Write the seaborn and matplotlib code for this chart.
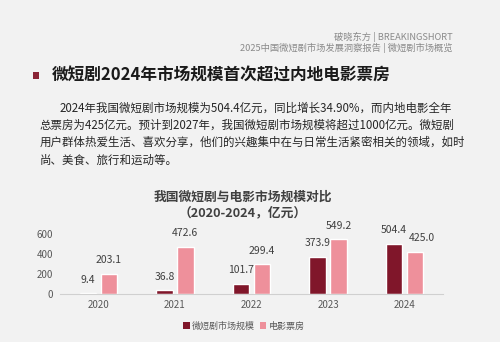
import matplotlib
matplotlib.use("Agg")
import matplotlib.pyplot as plt
import seaborn as sns
import pandas as pd
from matplotlib.patches import Rectangle, Patch

years = ["2020", "2021", "2022", "2023", "2024"]
micro_drama = [9.4, 36.8, 101.7, 373.9, 504.4]
box_office = [203.1, 472.6, 299.4, 549.2, 425.0]
series_names = ["微短剧市场规模", "电影票房"]
yticks = [0, 200, 400, 600]

header1 = "破晓东方 | BREAKINGSHORT"
header2 = "2025中国微短剧市场发展洞察报告 | 微短剧市场概览"
title = "微短剧2024年市场规模首次超过内地电影票房"
para_lines = [
    "2024年我国微短剧市场规模为504.4亿元，同比增长34.90%，而内地电影全年",
    "总票房为425亿元。预计到2027年，我国微短剧市场规模将超过1000亿元。微短剧",
    "用户群体热爱生活、喜欢分享，他们的兴趣集中在与日常生活紧密相关的领域，如时",
    "尚、美食、旅行和运动等。",
]
chart_title = "我国微短剧与电影市场规模对比\n（2020-2024，亿元）"

sns.set_theme(style="white")
plt.rcParams["font.family"] = ["Noto Sans CJK SC", "DejaVu Sans"]

DARK = "#80162a"
PINK = "#ee909b"
BG = "#f2f2f2"

df = pd.DataFrame({
    "year": years * 2,
    "value": micro_drama + box_office,
    "series": [series_names[0]] * len(years) + [series_names[1]] * len(years),
})

W, H = 500, 342
fig = plt.figure(figsize=(W / 100, H / 100), dpi=100, facecolor=BG)

def fx(px):
    return px / W

def fy(py):
    return 1 - py / H

# header
fig.text(fx(453), fy(37), header1, ha="right", va="center", fontsize=6.7, color="#8a8a8a")
fig.text(fx(453), fy(48), header2, ha="right", va="center", fontsize=6.7, color="#8a8a8a")

# title marker and title
fig.patches.append(Rectangle((fx(33), fy(79)), fx(6), 7 / H, transform=fig.transFigure,
                             facecolor="#8a2436", edgecolor="none"))
fig.text(fx(52), fy(76), title, ha="left", va="center", fontsize=12,
         fontweight="bold", color="#1a1a1a")

# paragraph
para_y = [108, 125, 142, 160]
for i, (line, y) in enumerate(zip(para_lines, para_y)):
    x = 60 if i == 0 else 40
    fig.text(fx(x), fy(y), line, ha="left", va="center", fontsize=8.25, color="#262626")

# chart title
fig.text(fx(243), fy(205), chart_title, ha="center", va="center", fontsize=9.2,
         fontweight="bold", color="#404040", linespacing=1.25)

# axes
ax = fig.add_axes([fx(60), fy(294), 383 / W, 70 / H])
ax.set_facecolor("none")
sns.barplot(data=df, x="year", y="value", hue="series", order=years,
            hue_order=series_names, palette=[DARK, PINK], width=0.55, gap=0.22,
            ax=ax, legend=False, saturation=1)
ax.set_xlim(-0.5, 4.5)
ax.set_ylim(0, 700)
ax.set_yticks(yticks)
ax.set_xlabel("")
ax.set_ylabel("")
for s in ["top", "right", "left"]:
    ax.spines[s].set_visible(False)
ax.spines["bottom"].set_color("#d0d0d0")
ax.spines["bottom"].set_linewidth(0.8)
ax.tick_params(axis="both", length=0, labelsize=7, labelcolor="#595959")
ax.tick_params(axis="y", pad=5)
ax.tick_params(axis="x", pad=4)

offsets = {(1, 4): (5, 0)}
for ci, cont in enumerate(ax.containers):
    for bi, bar in enumerate(cont):
        h = bar.get_height()
        dx, dy = offsets.get((ci, bi), (0, 0))
        ax.annotate(f"{h:.1f}", (bar.get_x() + bar.get_width() / 2, h),
                    xytext=(dx, 6 + dy), textcoords="offset points",
                    ha="center", va="bottom", fontsize=7.5, color="#404040",
                    annotation_clip=False)

handles = [Patch(facecolor=DARK, edgecolor="none"), Patch(facecolor=PINK, edgecolor="none")]
fig.legend(handles, series_names, loc="center", bbox_to_anchor=(fx(244), fy(326)),
           ncol=2, frameon=False, fontsize=6.5, handlelength=0.7, handleheight=0.7,
           handletextpad=0.3, columnspacing=0.5, labelcolor="#595959")

fig.savefig("out.png", dpi=100, facecolor=BG)
